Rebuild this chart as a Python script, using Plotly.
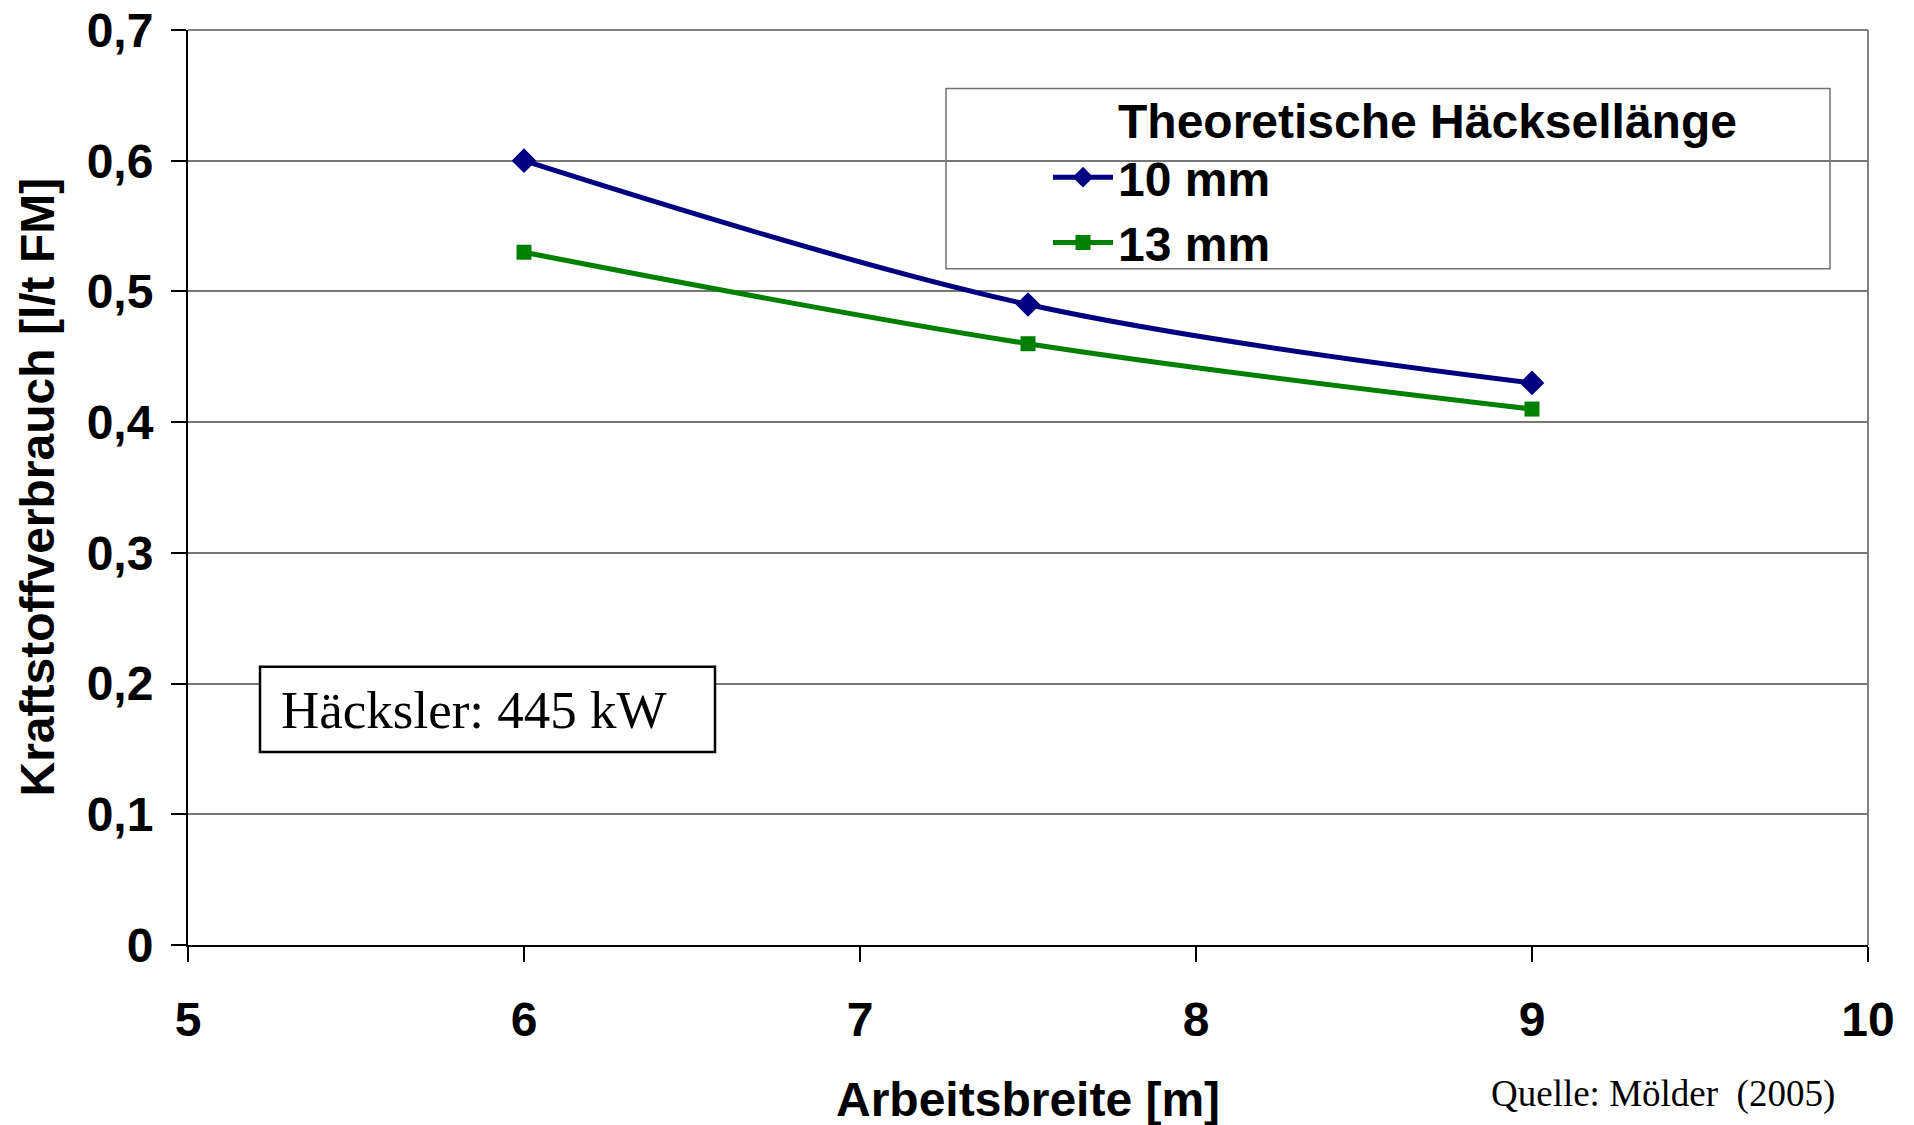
import plotly.graph_objects as go

# ---- data ----
x_breite = [6, 7.5, 9]
verbrauch_10mm = [0.60, 0.49, 0.43]
verbrauch_13mm = [0.53, 0.46, 0.41]
series_names = ["10 mm", "13 mm"]
x_tickvals = [5, 6, 7, 8, 9, 10]
x_ticktext = ["5", "6", "7", "8", "9", "10"]
y_tickvals = [0, 0.1, 0.2, 0.3, 0.4, 0.5, 0.6, 0.7]
y_ticktext = ["0", "0,1", "0,2", "0,3", "0,4", "0,5", "0,6", "0,7"]
legend_title = "Theoretische Häcksellänge"
x_title = "Arbeitsbreite [m]"
y_title = "Kraftstoffverbrauch [l/t FM]"
info_text = "Häcksler: 445 kW"
source_text = "Quelle: Mölder\u00a0\u00a0(2005)"

SANS = "Liberation Sans, Arial, sans-serif"
SERIF = "Liberation Serif, Times New Roman, serif"
FS = 48

W, H = 1914, 1125
L, R, T, B = 188, 46, 29.5, 180
PW = W - L - R
PH = H - T - B


def px2x(px):
    return (px - L) / PW


def px2y(py):
    return (H - B - py) / PH


fig = go.Figure()
fig.add_trace(go.Scatter(
    x=x_breite, y=verbrauch_10mm, name=series_names[0], mode="lines+markers",
    line=dict(color="#000080", width=5, shape="spline", smoothing=1.0),
    marker=dict(symbol="diamond", size=19, color="#000080"),
))
fig.add_trace(go.Scatter(
    x=x_breite, y=verbrauch_13mm, name=series_names[1], mode="lines+markers",
    line=dict(color="#008000", width=5, shape="spline", smoothing=1.0),
    marker=dict(symbol="square", size=15, color="#008000"),
))

shapes = [
    dict(type="line", xref="paper", yref="paper", x0=0, x1=1, y0=1, y1=1,
         line=dict(color="#808080", width=2), layer="below"),
    dict(type="line", xref="paper", yref="paper", x0=1, x1=1, y0=0, y1=1,
         line=dict(color="#808080", width=2), layer="below"),
    dict(type="rect", xref="paper", yref="paper",
         x0=px2x(946), x1=px2x(1830), y0=px2y(268.5), y1=px2y(88),
         line=dict(color="#707070", width=1.5), fillcolor="white", layer="below"),
    dict(type="rect", xref="paper", yref="paper",
         x0=px2x(260), x1=px2x(715), y0=px2y(752), y1=px2y(666.5),
         line=dict(color="black", width=2.5), fillcolor="white", layer="above"),
]

annotations = [
    dict(text=f"<b>{legend_title}</b>", xref="paper", yref="paper",
         x=px2x(1116), y=px2y(121), xanchor="left", yanchor="middle",
         showarrow=False, font=dict(family=SANS, size=FS, color="black")),
    dict(text=info_text, xref="paper", yref="paper",
         x=px2x(279), y=px2y(710), xanchor="left", yanchor="middle",
         showarrow=False, font=dict(family=SERIF, size=53, color="black")),
    dict(text=f"<b>{x_title}</b>", xref="paper", yref="paper",
         x=0.5, y=0, yshift=-154, xanchor="center", yanchor="middle",
         showarrow=False, font=dict(family=SANS, size=FS, color="black")),
    dict(text=f"<b>{y_title}</b>", xref="paper", yref="paper",
         x=0, xshift=37 - L, y=0.5, xanchor="center", yanchor="middle",
         textangle=-90, showarrow=False,
         font=dict(family=SANS, size=FS, color="black")),
    dict(text=source_text, xref="paper", yref="paper",
         x=1, xshift=1837 - (W - R), y=0, yshift=-149,
         xanchor="right", yanchor="middle", showarrow=False,
         font=dict(family=SERIF, size=37, color="black")),
]

fig.update_layout(
    width=W, height=H,
    margin=dict(l=L, r=R, t=T, b=B, autoexpand=False),
    paper_bgcolor="white", plot_bgcolor="white",
    font=dict(family=SANS, color="black"),
    showlegend=True,
    legend=dict(
        x=px2x(1048), y=px2y(139), xanchor="left", yanchor="top",
        bgcolor="rgba(0,0,0,0)", borderwidth=0,
        font=dict(family=SANS, size=FS, color="black", weight="bold"),
        itemwidth=60, tracegroupgap=0,
    ),
    shapes=shapes,
    annotations=annotations,
    xaxis=dict(
        range=[5, 10], tickvals=x_tickvals, ticktext=x_ticktext,
        ticks="outside", ticklen=15, tickwidth=1.5, tickcolor="black",
        showline=True, linecolor="black", linewidth=2,
        showgrid=False, zeroline=False,
        tickfont=dict(family=SANS, size=FS, color="black", weight="bold"),
        ticklabelstandoff=16,
    ),
    yaxis=dict(
        range=[0, 0.7], tickvals=y_tickvals, ticktext=y_ticktext,
        ticks="outside", ticklen=15, tickwidth=1.5, tickcolor="black",
        showline=True, linecolor="black", linewidth=2,
        showgrid=True, gridcolor="#777777", gridwidth=1.5, zeroline=False,
        tickfont=dict(family=SANS, size=FS, color="black", weight="bold"),
        ticklabelstandoff=8,
    ),
)

fig.write_html("out.html")
